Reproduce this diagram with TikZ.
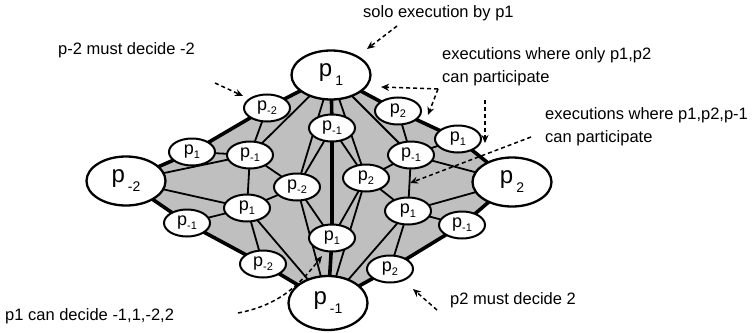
\documentclass[tikz,border=0pt]{standalone}
\usepackage{fontspec}
\setmainfont{Liberation Sans}
\usetikzlibrary{shapes.geometric,arrows.meta,backgrounds}

\newcommand{\smallp}[1]{p\raisebox{-4pt}{\fontsize{11}{11}\selectfont #1}}
\newcommand{\bigp}[1]{p\hspace{3pt}\raisebox{-9pt}{\fontsize{14}{14}\selectfont #1}}

\begin{document}
\begin{tikzpicture}[x=1pt, y=-1pt,
            every node/.style={inner sep=0pt}
        ]
        \tikzstyle {big_node} = [ellipse, draw, line width=2.3pt, fill=white, minimum width=79pt, minimum height=49pt, font=\fontsize{24}{24}\selectfont]
        \tikzstyle {small_node} = [ellipse, draw, line width=2pt, fill=white, minimum width=46pt, minimum height=27pt, font=\fontsize{18}{18}\selectfont]
        \tikzstyle {thick_edge} = [line width=3.6pt]
        \tikzstyle {thin_edge} = [line width=1.8pt]
        \tikzstyle {note} = [anchor=west, align=left, font=\fontsize{16.5}{23}\selectfont]
        \tikzstyle {hint} = [line width=1.5pt, dash pattern=on 4pt off 3pt, -{Stealth[length=8pt,width=7pt]}]

        \useasboundingbox (0,0) rectangle (752,332);

        % corners of the square
        \node [big_node] (tp) at (331,75) {\bigp{1}};
        \node [big_node] (lf) at (126,181) {\bigp{-2}};
        \node [big_node] (rt) at (512,182) {\bigp{2}};
        \node [big_node, minimum height=54pt] (bt) at (328,303) {\bigp{-1}};

        % vertices on the outer edges
        \node [small_node] (ul1) at (267,108) {\smallp{-2}};
        \node [small_node] (ul2) at (192,152) {\smallp{1}};
        \node [small_node] (ll1) at (187,223) {\smallp{-1}};
        \node [small_node] (ll2) at (263,264) {\smallp{-2}};
        \node [small_node] (lr1) at (390,269) {\smallp{2}};
        \node [small_node] (lr2) at (462,225) {\smallp{-1}};
        \node [small_node] (ur2) at (458,139) {\smallp{1}};
        \node [small_node] (ur1) at (398,111) {\smallp{2}};

        % inner vertices
        \node [small_node] (a) at (250,155) {\smallp{-1}};
        \node [small_node] (b) at (247,208) {\smallp{1}};
        \node [small_node] (c) at (297,187) {\smallp{-2}};
        \node [small_node] (d) at (332,128) {\smallp{-1}};
        \node [small_node] (e) at (332,238) {\smallp{1}};
        \node [small_node] (f) at (366,178) {\smallp{2}};
        \node [small_node] (g) at (411,155) {\smallp{-1}};
        \node [small_node] (h) at (408,211) {\smallp{1}};

        \begin{scope}[on background layer]
            \fill [black!25] (tp.center) -- (ul1.center) -- (ul2.center) -- (lf.center) -- (ll1.center) -- (ll2.center) -- (bt.center) -- (lr1.center) -- (lr2.center) -- (rt.center) -- (ur2.center) -- (ur1.center) -- cycle;

            \draw [thin_edge] (tp.center) -- (a.center) (tp.center) -- (c.center) (tp.center) -- (f.center) (tp.center) -- (g.center);
            \draw [thin_edge] (ul1.center) -- (a.center) -- (ul2.center) (lf.center) -- (a.center) -- (b.center) (a.center) -- (c.center);
            \draw [thin_edge] (lf.center) -- (b.center) -- (ll1.center) (ll2.center) -- (b.center) -- (bt.center) (b.center) -- (c.center);
            \draw [thin_edge] (d.center) -- (c.center) -- (e.center) (c.center) -- (bt.center);
            \draw [thin_edge] (d.center) -- (f.center) -- (e.center) (f.center) -- (bt.center) (f.center) -- (g.center) (f.center) -- (h.center);
            \draw [thin_edge] (ur1.center) -- (g.center) -- (ur2.center) (g.center) -- (rt.center) (g.center) -- (h.center);
            \draw [thin_edge] (rt.center) -- (h.center) -- (lr2.center) (lr1.center) -- (h.center) -- (bt.center);

            \draw [thick_edge] (tp.center) -- (ul1.center) -- (ul2.center) -- (lf.center) -- (ll1.center) -- (ll2.center) -- (bt.center) -- (lr1.center) -- (lr2.center) -- (rt.center) -- (ur2.center) -- (ur1.center) -- cycle;
            \draw [thick_edge] (tp.center) -- (d.center) -- (e.center) -- (bt.center);
        \end{scope}

        % notes
        \node [note] (solo) at (363,13) {solo execution by p1};
        \node [note] (dec_m2) at (58,50) {p-2 must decide -2};
        \node [note] (two) at (442,67) {executions where only p1,p2\\can participate};
        \node [note] (three) at (545,127) {executions where p1,p2,p-1\\can participate};
        \node [note] (dec_p1) at (5,316) {p1 can decide -1,1,-2,2};
        \node [note] (dec_p2) at (450,300) {p2 must decide 2};

        \coordinate (s1) at (397,26);  \coordinate (s2) at (367,49);
        \coordinate (m1) at (215,83);  \coordinate (m2) at (243,96);
        \coordinate (o0) at (438,89);  \coordinate (o1) at (381,87);
        \coordinate (o2) at (428,115);
        \coordinate (o3) at (485,100); \coordinate (o4) at (485,143);
        \coordinate (q1) at (531,137); \coordinate (q2) at (410,183);
        \coordinate (k1) at (238,313); \coordinate (k2) at (322,256);
        \coordinate (r1) at (437,310); \coordinate (r2) at (413,289);

        \draw [hint] (s1) -- (s2);
        \draw [hint] (m1) -- (m2);
        \draw [hint] (o0) -- (o1);
        \draw [hint] (o0) -- (o2);
        \draw [hint] (o3) -- (o4);
        \draw [hint] (q1) -- (q2);
        \draw [hint] (k1) .. controls (280,305) and (300,284) .. (k2);
        \draw [hint] (r1) -- (r2);

        \end{tikzpicture}
\end{document}
